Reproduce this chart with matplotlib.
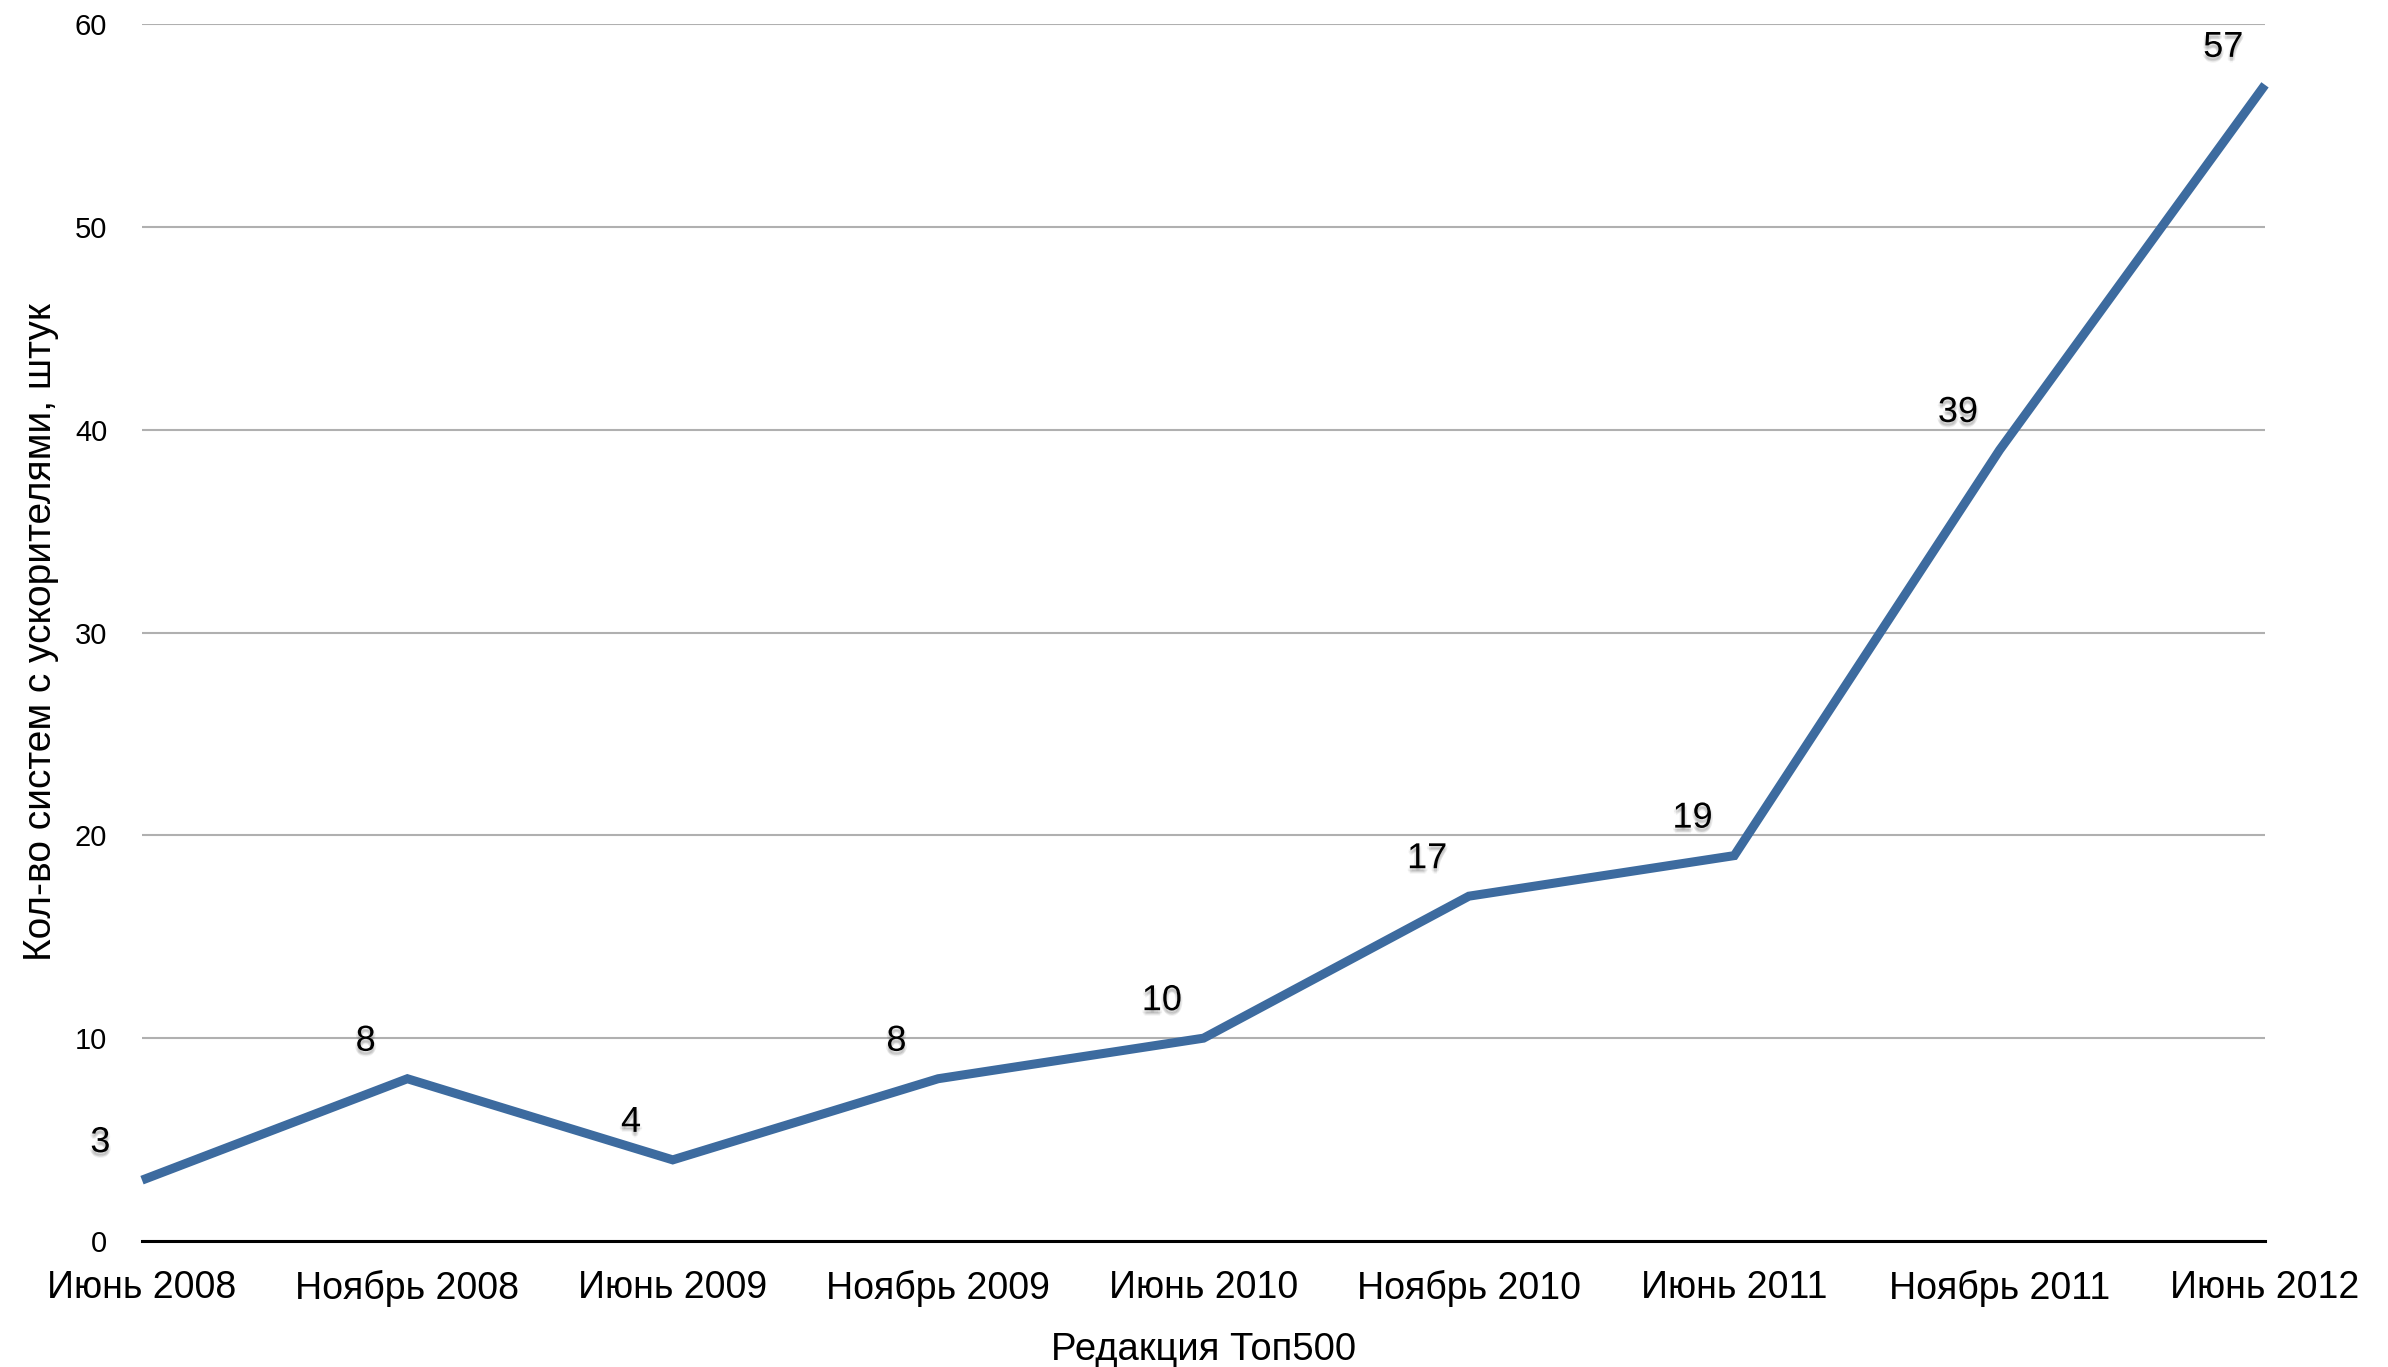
import matplotlib
matplotlib.use('Agg')
import matplotlib.pyplot as plt
import matplotlib.patheffects as pe

plt.rcParams['font.family'] = ['Liberation Sans', 'DejaVu Sans']

editions = ['Июнь 2008', 'Ноябрь 2008', 'Июнь 2009', 'Ноябрь 2009', 'Июнь 2010',
            'Ноябрь 2010', 'Июнь 2011', 'Ноябрь 2011', 'Июнь 2012']
systems = [3, 8, 4, 8, 10, 17, 19, 39, 57]
y_ticks = [0, 10, 20, 30, 40, 50, 60]

line_color = '#3d6b9f'

fig = plt.figure(figsize=(23.88, 13.67), dpi=100)
ax = fig.add_axes([142 / 2388, 1 - 1241 / 1367, (2265 - 142) / 2388, (1241 - 24) / 1367])

x = list(range(len(editions)))
ax.plot(x, systems, color=line_color, linewidth=6.5, solid_capstyle='butt',
        solid_joinstyle='miter', clip_on=False, zorder=3)

# soft drop shadow under the value labels
shadow = []
for dx, dy in [(0, -2), (1, -3), (-1, -3), (0, -4), (1.5, -2), (-1.5, -2), (0, -3)]:
    shadow.append(pe.SimplePatchShadow(offset=(dx, dy), shadow_rgbFace='#555555', alpha=0.07))
shadow.append(pe.Normal())

for xi, v in zip(x, systems):
    ax.annotate(str(v), (xi, v), xytext=(-30, 27), textcoords='offset points',
                ha='center', va='center', fontsize=26, color='black',
                path_effects=shadow, zorder=4, annotation_clip=False)

ax.set_xlim(0, 8)
ax.set_ylim(0, 60)
ax.set_yticks(y_ticks)
ax.set_xticks(x)
ax.set_xticklabels(editions, fontsize=27)
ax.tick_params(axis='x', length=0, pad=21)
ax.tick_params(axis='y', length=0, pad=25, labelsize=21)

ax.grid(axis='y', color='#b0b0b0', linewidth=1.5)
ax.set_axisbelow(True)
for s in ['left', 'right', 'top']:
    ax.spines[s].set_visible(False)
ax.spines['bottom'].set_color('black')
ax.spines['bottom'].set_linewidth(2.2)
ax.spines['bottom'].set_zorder(2.5)

ax.set_xlabel('Редакция Топ500', fontsize=27.5, va='center')
ax.xaxis.set_label_coords(0.5, -0.0895)
ax.set_ylabel('Кол-во систем с ускорителями, штук', fontsize=28, va='center')
ax.yaxis.set_label_coords(-0.0475, 0.5)

fig.savefig('out.png', dpi=100)
